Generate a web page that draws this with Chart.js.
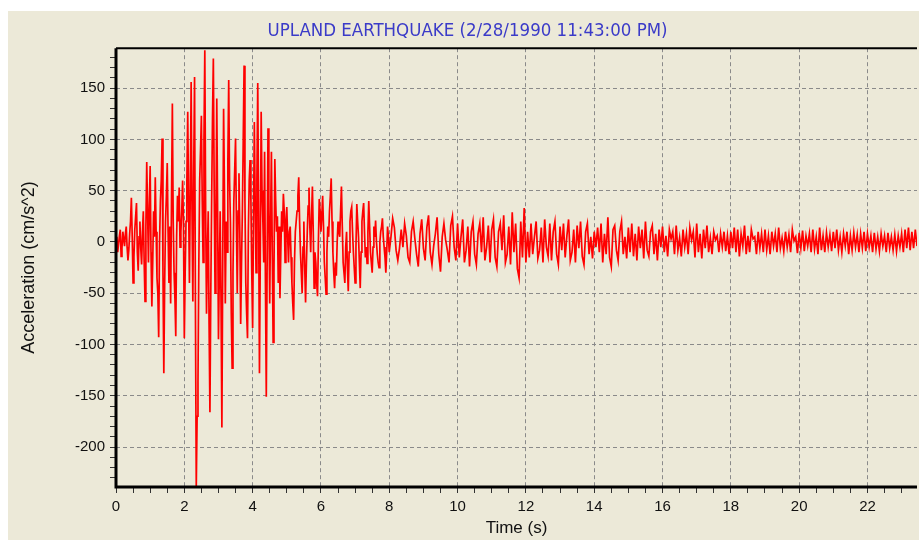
<!DOCTYPE html>
<html>
<head>
<meta charset="utf-8">
<script src="https://cdn.jsdelivr.net/npm/chart.js@4.4.1/dist/chart.umd.min.js"></script>
<style>
  html, body { margin: 0; padding: 0; background: #ffffff; }
  #wrap { width: 919px; height: 540px; }
</style>
</head>
<body>
<div id="wrap"><canvas id="quake" width="919" height="540"></canvas></div>
<script>
// Upland earthquake record (cm/s^2)
// strong motion 0 - 7.975 s is read every 0.025 s, the rest every 0.05 s
const strongStep = 0.025;
const codaStep = 0.05;
const codaStart = 8;

// 0.000 - 3.975 s
const accelOnset = [
    0, 5, -10, -2, 6, 12, -14, -6, 10, 3, -4, 8, 15, -5, -18, -8, 8, 20, 43, 5, -40, -15, 12, 25, 38, -10, -28, 5, 20, -6, -22, 10, 30, -20, -58, 15, 78, 30, -20, 35,
    74, -10, -63, -20, 30, 5, 63, 10, -35, -50, -93, 0, 40, 60, 101, -30, -128, -40, 20, 45, 77, 10, -40, 15, -60, 40, 135, 20, -30, -55, -92, 5, 45, 20, 53, -5, 10, 30, 60, 20,
    -94, -30, 20, 60, 127, 40, -40, 50, 156, 30, -58, 70, 161, -60, -239, -170, -137, -20, 60, 90, 123, 40, -20, 100, 187, 30, -70, -10, 30, -80, -166, -50, 40, 120, 179, 50, -50, 20, 140, 30,
    -95, -30, 30, -60, -181, -20, 130, 50, -60, 20, -10, 80, 158, 60, 20, -70, -123, -30, 40, 70, 101, 20, -50, 30, 67, 10, -80, -20, 30, 100, 172, 40, -40, -70, -94, 10, 60, 80, 40, -30
];
// 4.000 - 7.975 s
const accelStrong = [
    -84, 20, 117, 40, -30, 60, 155, 30, -128, -10, 127, 50, 20, -20, 88, -40, -151, -20, 111, 30, -60, 20, 88, -10, -98, -30, 81, 40, 10, 25, -40, 15, -55, -10, 30, 10, 47, 30, -20, 20,
    34, 5, -20, 10, 15, -15, -40, -60, -76, -20, 10, 20, 30, 45, 63, 20, -10, -30, -50, -5, 20, -25, -59, -20, 10, 35, 53, 15, -10, 25, 54, 10, -45, -10, -20, -40, -53, 0, 42, 30,
    10, 25, 45, 15, -20, -35, -51, -10, 15, 5, 30, 45, 62, 20, -10, -30, -45, -20, -33, 0, 20, 10, 5, 30, 54, 15, -20, -30, -40, -5, 10, -25, -48, -10, 20, 30, 34, 10, -10, -25,
    -40, -5, 37, 20, 5, -20, -45, -10, 20, 30, 38, 10, -15, -5, -21, 10, 40, 15, -10, -20, -30, -5, 15, 5, 21, 0, -12, -20, -25, 0, 10, 15, 23, 5, -5, -15, -30, -10, 15, 5
];
// 8.00 - 12.95 s
const accelCoda = [
    -10, 5, 23, 14, -8, -18, -6, 12, -5, 18, 6, -15, -20, 10, 20, 3, -12, -24, 8, 22,
    -6, -18, 14, 26, -10, -22, -4, 8, 24, -12, -29, 5, 18, 2, -8, -20, 16, 25, -5, -18,
    18, -15, 5, 22, -20, -8, 15, -24, 10, 20, -12, -22, 8, 18, -10, 24, -18, -5, 16, -20,
    12, 22, -15, -24, 10, 18, -8, 26, -20, -12, 15, -22, 29, -10, 18, -26, -35, 20, -15, 33,
    -20, 10, -15, 18, -12, 5, 20, -16, -8, 14, -20, 22, -5, -14, 18, -18, 10, 20, -12, -22
];
// 13.00 - 17.95 s
const accelTail = [
    15, -8, 18, -15, 6, 22, -18, -10, 12, -20, 16, -6, 20, -14, -22, 10, 18, -12, 5, -16,
    10, -5, 14, -10, 18, -20, 8, -12, 24, -15, -24, 12, 16, -8, -18, 10, 20, -12, 5, -16,
    14, -10, 18, -14, 8, -18, 15, -6, 12, -16, 20, -8, -14, 10, 16, -12, 8, -18, 12, -5,
    15, -10, 6, -14, 12, 3, 10, -12, 16, -8, 4, -14, 12, -5, 8, -12, 14, 2, 10, -15,
    18, -10, 8, -16, 12, -6, 16, -10, 4, -12, 10, 2, 6, -10, 8, -5, 10, -9, 6, -12
];
// 18.00 - 23.45 s
const accelEnd = [
    10, -6, 14, -10, 12, -14, 8, -4, 16, -12, 6, -10, 12, 3, 5, -12, 10, -6, 8, -10,
    12, -8, 6, -12, 10, -4, 8, -10, 14, -6, 4, -9, 10, -5, 7, -10, 12, 1, 5, -11,
    9, -6, 11, -9, 6, -4, 8, -10, 12, -7, 5, -12, 14, -8, 6, -10, 9, -5, 7, -9,
    10, -6, 12, -8, 5, -10, 8, -4, 10, -12, 6, -8, 9, -5, 7, -10, 8, -6, 10, -9,
    8, -5, 6, -10, 9, -7, 5, -9, 8, -4, 6, -10, 9, -6, 5, -8, 7, -9, 6, -5,
    8, -10, 12, -6, 14, -8, 10, -6, 12, -4
];

const timeMax = 23.45;
const accelMin = -239;
const accelMax = 189;
const titleText = 'UPLAND EARTHQUAKE (2/28/1990 11:43:00 PM)';

const strong = [...accelOnset, ...accelStrong];
const coda = [...accelCoda, ...accelTail, ...accelEnd];
const points = [
    ...strong.map((v, i) => ({ x: +(i * strongStep).toFixed(3), y: v })),
    ...coda.map((v, i) => ({ x: +(codaStart + i * codaStep).toFixed(3), y: v }))
];

const isEven = (v) => Math.abs(v / 2 - Math.round(v / 2)) < 1e-6;
const isFifty = (v) => Math.abs(v / 50 - Math.round(v / 50)) < 1e-6;

const panelBg = {
    id: 'panelBg',
    beforeDraw(chart) {
        const c = chart.ctx;
        c.save();
        c.fillStyle = '#ffffff';
        c.fillRect(0, 0, chart.width, chart.height);
        c.fillStyle = '#ece9d8';
        c.fillRect(8, 11, chart.width - 8, chart.height - 11);
        c.restore();
    }
};

const frame = {
    id: 'frame',
    afterDatasetsDraw(chart) {
        const a = chart.chartArea;
        const c = chart.ctx;
        c.save();
        c.strokeStyle = '#000000';
        c.lineWidth = 2;
        c.beginPath();
        c.moveTo(a.left, a.top);
        c.lineTo(a.right, a.top);
        c.stroke();
        c.lineWidth = 3;
        c.beginPath();
        c.moveTo(a.left, a.top);
        c.lineTo(a.left, a.bottom);
        c.lineTo(a.right, a.bottom);
        c.stroke();
        c.restore();
    }
};

const labelFont = { family: '"Liberation Sans", Arial, sans-serif', size: 15 };
const axisTitleFont = { family: '"Liberation Sans", Arial, sans-serif', size: 17 };

new Chart(document.getElementById('quake'), {
    type: 'line',
    data: {
        datasets: [{
            data: points,
            borderColor: '#ff0000',
            borderWidth: 1.7,
            pointRadius: 0,
            tension: 0,
            fill: false
        }]
    },
    options: {
        responsive: false,
        animation: false,
        layout: { padding: { left: 18, right: 2, top: 0, bottom: 0 } },
        plugins: {
            legend: { display: false },
            tooltip: { enabled: false },
            title: {
                display: true,
                text: titleText,
                color: '#3b3bc8',
                font: { family: '"DejaVu Sans Condensed", "Liberation Sans Narrow", sans-serif', size: 18.5, weight: 'normal' },
                padding: { top: 20, bottom: 6 }
            }
        },
        scales: {
            x: {
                type: 'linear',
                min: 0,
                max: timeMax,
                afterFit(scale) { scale.height = 53; },
                border: { display: false, dash: [4, 3] },
                grid: {
                    color: (ctx) => isEven(ctx.tick.value) ? '#8a8a8a' : 'rgba(0,0,0,0)',
                    tickColor: '#333333',
                    tickBorderDash: [],
                    tickLength: 6,
                    lineWidth: 1
                },
                ticks: {
                    stepSize: 0.5,
                    includeBounds: false,
                    autoSkip: false,
                    maxRotation: 0,
                    padding: 5,
                    color: '#111111',
                    font: labelFont,
                    callback: (v) => isEven(v) ? String(Math.round(v)) : ''
                },
                title: {
                    display: true,
                    text: 'Time (s)',
                    color: '#111111',
                    font: axisTitleFont,
                    padding: { top: 0, bottom: 1 }
                }
            },
            y: {
                type: 'linear',
                min: accelMin,
                max: accelMax,
                afterFit(scale) { scale.width = 98; },
                border: { display: false, dash: [4, 3] },
                grid: {
                    color: (ctx) => isFifty(ctx.tick.value) ? '#8a8a8a' : 'rgba(0,0,0,0)',
                    tickColor: '#333333',
                    tickBorderDash: [],
                    tickLength: 6,
                    lineWidth: 1
                },
                ticks: {
                    stepSize: 10,
                    includeBounds: false,
                    autoSkip: false,
                    padding: 5,
                    color: '#111111',
                    font: labelFont,
                    callback: (v) => isFifty(v) ? String(Math.round(v)) : ''
                },
                title: {
                    display: true,
                    text: 'Acceleration (cm/s^2)',
                    color: '#111111',
                    font: { family: '"Liberation Sans", Arial, sans-serif', size: 18 },
                    padding: { top: 0, bottom: 0 }
                }
            }
        }
    },
    plugins: [panelBg, frame]
});
</script>
</body>
</html>
